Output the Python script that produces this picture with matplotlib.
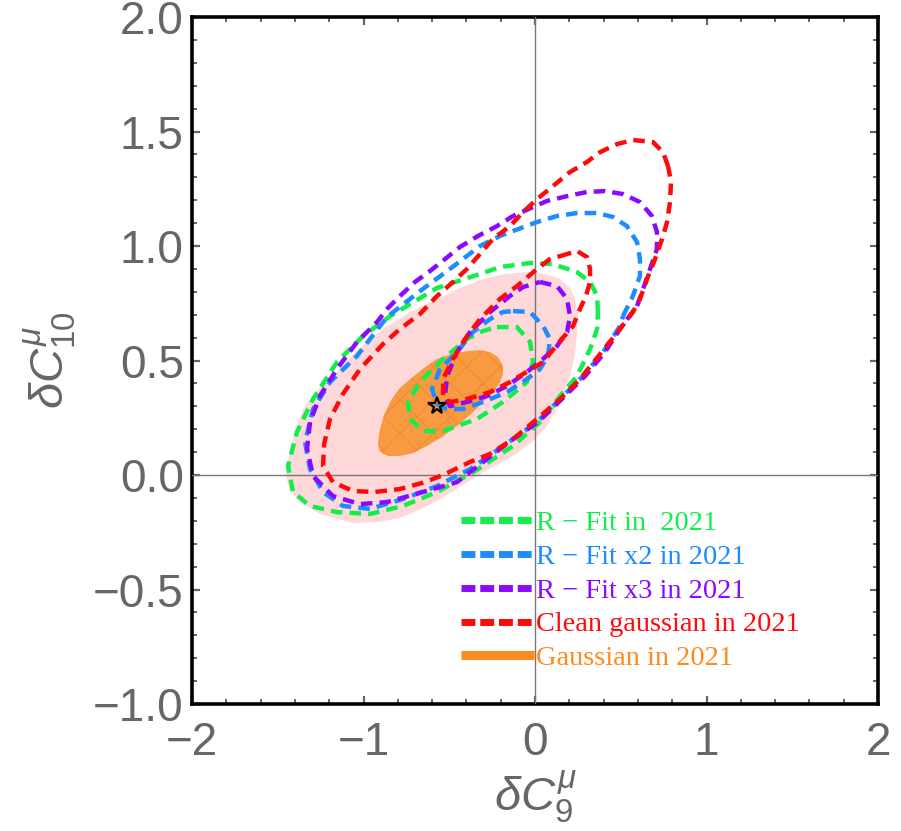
import numpy as np
import matplotlib
matplotlib.use('Agg')
import matplotlib.pyplot as plt
from matplotlib.lines import Line2D
from matplotlib.ticker import MultipleLocator

plt.rcParams['font.family'] = ['Liberation Sans', 'DejaVu Sans']
plt.rcParams['mathtext.fontset'] = 'custom'
plt.rcParams['mathtext.rm'] = 'Liberation Sans'
plt.rcParams['mathtext.it'] = 'Liberation Sans:italic'
plt.rcParams['hatch.linewidth'] = 0.6

# contour outlines, (dC9, dC10)
gauss_2s_x = [-1.353, -1.283, -1.178, -1.050, -0.886, -0.729, -0.571, -0.437, -0.303, -0.175,
              -0.047, 0.058, 0.146, 0.204, 0.233, 0.251, 0.245, 0.233, 0.204, 0.146,
              0.070, -0.017, -0.128, -0.222, -0.321, -0.437, -0.554, -0.641, -0.770, -0.904,
              -1.061, -1.254, -1.370, -1.434, -1.452, -1.429, -1.394]
gauss_2s_y = [0.288, 0.362, 0.432, 0.537, 0.638, 0.712, 0.769, 0.817, 0.856, 0.878,
              0.886, 0.878, 0.856, 0.817, 0.769, 0.699, 0.624, 0.528, 0.432, 0.319,
              0.214, 0.144, 0.083, 0.044, 0.004, -0.052, -0.105, -0.140, -0.183, -0.205,
              -0.210, -0.170, -0.118, -0.061, 0.004, 0.114, 0.201]

gauss_1s_x = [-0.915, -0.904, -0.880, -0.845, -0.793, -0.729, -0.650, -0.571, -0.490, -0.397,
              -0.320, -0.262, -0.216, -0.187, -0.187, -0.204, -0.245, -0.303, -0.373, -0.455,
              -0.542, -0.630, -0.711, -0.787, -0.850, -0.886, -0.910]
gauss_1s_y = [0.144, 0.201, 0.262, 0.319, 0.376, 0.419, 0.466, 0.507, 0.528, 0.541,
              0.545, 0.537, 0.515, 0.476, 0.441, 0.406, 0.358, 0.319, 0.266, 0.214,
              0.166, 0.127, 0.096, 0.083, 0.083, 0.092, 0.109]

green_out_x = [0.367, 0.362, 0.321, 0.245, 0.105, -0.029, -0.204, -0.321, -0.571, -0.845,
               -1.003, -1.155, -1.294, -1.388, -1.440, -1.411, -1.312, -1.155, -0.962, -0.770,
               -0.571, -0.350, -0.128, 0.029, 0.146, 0.245, 0.321, 0.362]
green_out_y = [0.712, 0.782, 0.843, 0.886, 0.921, 0.926, 0.908, 0.878, 0.817, 0.694,
               0.607, 0.493, 0.332, 0.188, 0.039, -0.074, -0.135, -0.162, -0.170, -0.135,
               -0.074, 0.017, 0.127, 0.231, 0.345, 0.432, 0.550, 0.638]

green_in_x = [-0.222, -0.105, -0.029, -0.012, -0.047, -0.187, -0.338, -0.536, -0.653,
              -0.729, -0.741, -0.671, -0.536, -0.397, -0.303]
green_in_y = [0.646, 0.646, 0.581, 0.493, 0.406, 0.319, 0.245, 0.192, 0.192,
              0.245, 0.319, 0.406, 0.507, 0.594, 0.629]

blue_out_x = [0.513, 0.571, 0.612, 0.612, 0.595, 0.536, 0.455, 0.362, 0.245, 0.128,
              0.012, -0.204, -0.321, -0.496, -0.671, -0.863, -1.038, -1.195, -1.294, -1.341,
              -1.312, -1.236, -1.120, -0.962, -0.770, -0.571, -0.379, -0.128, 0.012, 0.146,
              0.280, 0.397, 0.496]
blue_out_y = [0.694, 0.782, 0.869, 0.943, 1.017, 1.087, 1.127, 1.144, 1.144, 1.131,
              1.105, 1.044, 1.000, 0.900, 0.803, 0.690, 0.520, 0.406, 0.288, 0.144,
              0.026, -0.074, -0.135, -0.148, -0.105, -0.048, 0.026, 0.157, 0.231, 0.332,
              0.432, 0.537, 0.651]

blue_in_x = [-0.128, -0.029, 0.047, 0.087, 0.076, 0.029, -0.047, -0.163, -0.303,
             -0.420, -0.513, -0.571, -0.601, -0.554, -0.455, -0.362, -0.262, -0.187]
blue_in_y = [0.716, 0.712, 0.651, 0.594, 0.520, 0.463, 0.419, 0.362, 0.319,
             0.288, 0.288, 0.310, 0.376, 0.463, 0.537, 0.624, 0.681, 0.712]

purple_out_x = [0.595, 0.630, 0.671, 0.711, 0.711, 0.682, 0.612, 0.513, 0.408, 0.303,
                0.187, 0.070, -0.012, -0.128, -0.222, -0.332, -0.437, -0.525, -0.612, -0.700,
                -0.787, -0.863, -0.921, -1.038, -1.155, -1.254, -1.312, -1.329, -1.294, -1.178,
                -1.020, -0.863, -0.653, -0.455, -0.280, -0.128, 0.017, 0.157, 0.292, 0.408,
                0.507]
purple_out_y = [0.738, 0.812, 0.900, 0.987, 1.061, 1.131, 1.192, 1.227, 1.240, 1.236,
                1.218, 1.197, 1.170, 1.131, 1.087, 1.044, 0.996, 0.943, 0.891, 0.843,
                0.782, 0.725, 0.668, 0.581, 0.463, 0.345, 0.231, 0.114, -0.004, -0.092,
                -0.127, -0.118, -0.074, -0.031, 0.070, 0.157, 0.231, 0.332, 0.432, 0.537,
                0.651]

purple_in_x = [0.029, 0.128, 0.187, 0.204, 0.187, 0.128, 0.047, -0.047, -0.163, -0.280,
               -0.397, -0.496, -0.525, -0.513, -0.455, -0.379, -0.262, -0.146, -0.070]
purple_in_y = [0.843, 0.825, 0.769, 0.694, 0.624, 0.563, 0.507, 0.450, 0.389, 0.345,
               0.319, 0.301, 0.345, 0.432, 0.537, 0.624, 0.712, 0.782, 0.821]

red_out_x = [0.776, 0.746, 0.688, 0.571, 0.478, 0.379, 0.303, 0.204, 0.105, 0.012,
             -0.070, -0.146, -0.245, -0.321, -0.397, -0.478, -0.571, -0.671, -0.787, -0.886,
             -1.020, -1.120, -1.195, -1.230, -1.236, -1.178, -1.061, -0.933, -0.787, -0.641,
             -0.525, -0.379, -0.262, -0.128, 0.012, 0.146, 0.262, 0.379, 0.496, 0.571,
             0.612, 0.653, 0.700, 0.741, 0.770, 0.787, 0.793]
red_out_y = [1.349, 1.410, 1.454, 1.463, 1.445, 1.410, 1.367, 1.323, 1.262, 1.205,
             1.148, 1.087, 1.031, 0.965, 0.900, 0.843, 0.782, 0.703, 0.638, 0.572,
             0.463, 0.354, 0.245, 0.135, 0.039, -0.031, -0.070, -0.074, -0.061, -0.031,
             0.004, 0.057, 0.092, 0.157, 0.245, 0.332, 0.419, 0.528, 0.638, 0.712,
             0.769, 0.856, 0.943, 1.031, 1.105, 1.192, 1.279]

red_in_x = [0.146, 0.245, 0.303, 0.321, 0.321, 0.297, 0.262, 0.222, 0.146, 0.047,
            -0.041, -0.146, -0.262, -0.397, -0.496, -0.536, -0.536, -0.478, -0.408, -0.321,
            -0.204, -0.105, 0.012, 0.087]
red_in_y = [0.956, 0.978, 0.952, 0.900, 0.843, 0.782, 0.725, 0.651, 0.585, 0.493,
            0.454, 0.406, 0.362, 0.332, 0.319, 0.345, 0.419, 0.507, 0.594, 0.681,
            0.769, 0.825, 0.900, 0.943]

best_fit = (-0.57, 0.30)

labels = ['R − Fit in  2021', 'R − Fit x2 in 2021', 'R − Fit x3 in 2021',
          'Clean gaussian in 2021', 'Gaussian in 2021']
c_green, c_blue, c_purple, c_red, c_orange = '#12EE4A', '#1E8CFF', '#8A0AFF', '#FF0A0A', '#FF8A1E'


def closed(xs, ys):
    return list(xs) + [xs[0]], list(ys) + [ys[0]]


fig = plt.figure(figsize=(9.01, 8.31), dpi=100)
ax = fig.add_axes([0.2131, 0.1528, 0.7614, 0.8267])

ax.fill(gauss_2s_x, gauss_2s_y, color='#FFD9D9', lw=0, zorder=1)
ax.fill(gauss_1s_x, gauss_1s_y, facecolor='#F89A40', edgecolor='#F2862A',
        hatch='x', lw=0, zorder=2)

ax.axhline(0, color='#777777', lw=1.0, zorder=3)
ax.axvline(0, color='#777777', lw=1.0, zorder=3)

dash = (2.6, 1.6)
for xs, ys, col in [(green_out_x, green_out_y, c_green), (green_in_x, green_in_y, c_green),
                    (blue_out_x, blue_out_y, c_blue), (blue_in_x, blue_in_y, c_blue),
                    (purple_out_x, purple_out_y, c_purple), (purple_in_x, purple_in_y, c_purple),
                    (red_out_x, red_out_y, c_red), (red_in_x, red_in_y, c_red)]:
    cx, cy = closed(xs, ys)
    ax.plot(cx, cy, color=col, lw=3.2, dashes=dash, zorder=4)

ax.plot(*best_fit, marker='*', color='black', ms=13, mfc='none', mew=1.6, zorder=6)

ax.set_xlim(-2, 2)
ax.set_ylim(-1, 2)
ax.xaxis.set_major_locator(MultipleLocator(1))
ax.xaxis.set_minor_locator(MultipleLocator(0.2))
ax.yaxis.set_major_locator(MultipleLocator(0.5))
ax.yaxis.set_minor_locator(MultipleLocator(0.1))
ax.xaxis.set_major_formatter(plt.FuncFormatter(lambda v, p: f'{v:.0f}'.replace('-', '\u2212')))
ax.yaxis.set_major_formatter(plt.FuncFormatter(lambda v, p: f'{v:.1f}'.replace('-', '\u2212')))

ax.tick_params(which='both', direction='in', top=True, right=True, color='#666666',
               labelcolor='#666666', labelsize=33)
ax.tick_params(which='major', length=6, width=1.6)
ax.tick_params(which='minor', length=3.5, width=1.4)
ax.tick_params(axis='x', pad=12)
ax.tick_params(axis='y', pad=6)
for sp in ax.spines.values():
    sp.set_linewidth(2.6)
    sp.set_color('black')

ax.set_xlabel(r'$\delta C_9^\mu$', fontsize=34, color='#666666', labelpad=3)
ax.set_ylabel(r'$\delta C_{10}^\mu$', fontsize=34, color='#666666', labelpad=10)

ld = (2.0, 0.7)
handles = [Line2D([], [], color=c_green, lw=5, dashes=ld),
           Line2D([], [], color=c_blue, lw=5, dashes=ld),
           Line2D([], [], color=c_purple, lw=5, dashes=ld),
           Line2D([], [], color=c_red, lw=5, dashes=ld),
           Line2D([], [], color=c_orange, lw=6.5, solid_capstyle='butt')]
leg = ax.legend(handles, labels, loc='upper left', bbox_to_anchor=(0.392, 0.282),
                frameon=False, borderpad=0, borderaxespad=0, handlelength=2.58,
                handletextpad=0.08, labelspacing=0.28,
                prop={'family': 'Liberation Serif', 'size': 20.4})
for txt, h in zip(leg.get_texts(), handles):
    txt.set_color(h.get_color())

fig.savefig('out.png', dpi=100)
